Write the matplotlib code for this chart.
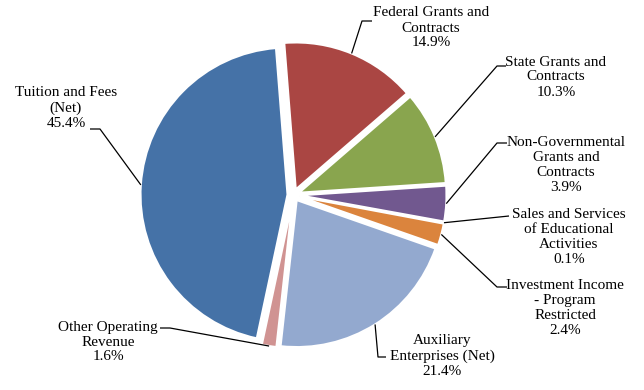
import matplotlib.pyplot as plt
import numpy as np

# Daten
labels = ['Federal Grants and\nContracts', 'State Grants and\nContracts',
          'Non-Governmental\nGrants and\nContracts',
          'Sales and Services\nof Educational\nActivities',
          'Investment Income\n- Program\nRestricted',
          'Auxiliary\nEnterprises (Net)', 'Other Operating\nRevenue',
          'Tuition and Fees\n(Net)']
values = [14.9, 10.3, 3.9, 0.1, 2.4, 21.4, 1.6, 45.4]
colors = ['#AA4643', '#89A54E', '#71588F', '#4198AF', '#DB843D',
          '#93A9CF', '#D09392', '#4572A7']

# Layout in Pixeln (y von oben)
text_pos = [(431, 28), (556, 77), (566, 165), (569, 237), (565, 308),
            (442, 356), (108, 342), (66, 108)]
elbow_pos = [(362, 21), (497, 66), (497, 143), (509, 216), (497, 287),
             (378, 357), (170, 328), (100, 129)]
end_pos = [(372, 21), (506, 66), (507, 143), (509, 216), (507, 287),
           (386, 357), (160, 328), (90, 129)]

W, H = 644, 390
fig = plt.figure(figsize=(W / 100, H / 100), dpi=100)
ax = fig.add_axes([0, 0, 1, 1])

cx, cy, r = 293.5, H - 195, 147
wedges, _ = ax.pie(values, colors=colors, startangle=94.5, counterclock=False,
                   explode=[6] * len(values), radius=r, center=(cx, cy),
                   wedgeprops=dict(edgecolor='white', linewidth=1.5))

ax.set_xlim(0, W)
ax.set_ylim(0, H)
ax.set_aspect('equal')
ax.axis('off')

font = dict(family='Liberation Serif', fontsize=11, color='black')

for w, lab, v, tp, ep, en in zip(wedges, labels, values, text_pos, elbow_pos, end_pos):
    mid = np.radians((w.theta1 + w.theta2) / 2)
    px = w.center[0] + w.r * np.cos(mid)
    py = w.center[1] + w.r * np.sin(mid)
    xs = [px, ep[0], en[0]]
    ys = [py, H - ep[1], H - en[1]]
    ax.plot(xs, ys, color='black', linewidth=0.9, solid_capstyle='butt')
    ax.text(tp[0], H - tp[1], f'{lab}\n{v:.1f}%', ha='center', va='center',
            multialignment='center', linespacing=1.2, **font)

plt.savefig('out.png', dpi=100)
